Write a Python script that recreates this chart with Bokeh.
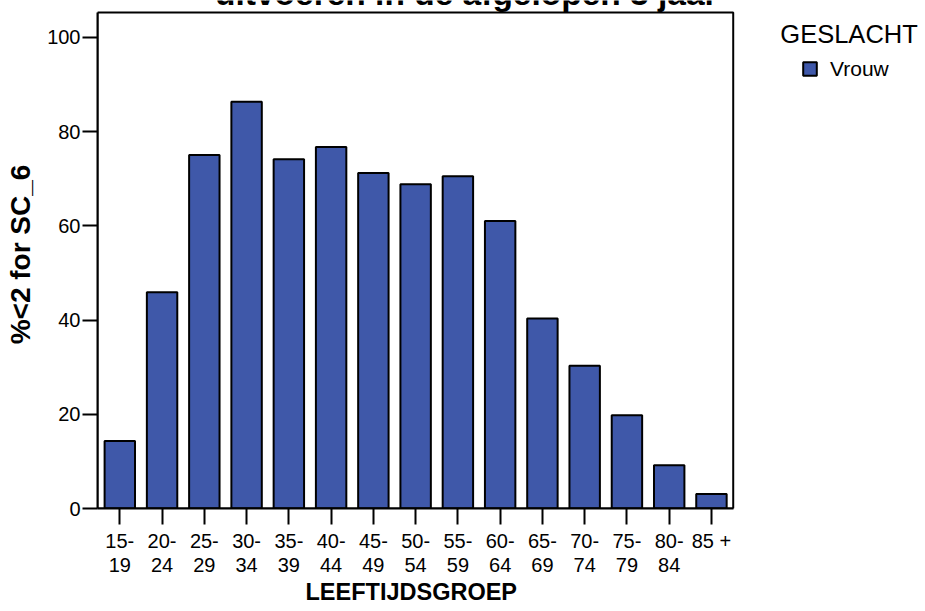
from bokeh.plotting import figure
from bokeh.models import Range1d, Label, FixedTicker, BoxAnnotation, Title
from bokeh.embed import file_html
from bokeh.resources import INLINE

# ---- data ----
age_groups = ["15-\n19", "20-\n24", "25-\n29", "30-\n34", "35-\n39", "40-\n44",
              "45-\n49", "50-\n54", "55-\n59", "60-\n64", "65-\n69", "70-\n74",
              "75-\n79", "80-\n84", "85 +"]
pct_vrouw = [14.3, 45.9, 75.0, 86.3, 74.1, 76.7, 71.2, 68.8, 70.5, 61.0,
             40.3, 30.3, 19.8, 9.2, 3.1]
y_ticks = [0, 20, 40, 60, 80, 100]
series_name = "Vrouw"
legend_title = "GESLACHT"
chart_title = "uitvoeren in de afgelopen 3 jaar"
x_title = "LEEFTIJDSGROEP"
y_title = "%<2 for SC_6"

FONT = "Liberation Sans"
BAR_COLOR = "#3F58A9"

# layout (the frame covers the whole area right of the y axis; the plot box
# itself is drawn as a box annotation)
X_START, X_BOX_END, X_END = -0.528, 14.515, 19.065
Y_BOX_TOP, Y_END = 105.25, 107.8

idx = list(range(len(age_groups)))

p = figure(x_range=Range1d(X_START, X_END), y_range=Range1d(0, Y_END),
           frame_width=828, frame_height=508,
           min_border_left=97, min_border_right=0,
           min_border_top=0, min_border_bottom=102,
           output_backend="svg", toolbar_location=None)

p.vbar(x=idx, top=pct_vrouw, width=0.72, fill_color=BAR_COLOR,
       line_color="black", line_width=2, legend_label=series_name)

p.xgrid.visible = False
p.ygrid.visible = False
p.outline_line_color = None
p.background_fill_color = "white"
p.border_fill_color = "white"

p.add_layout(BoxAnnotation(left=X_START, right=X_BOX_END, bottom=0, top=Y_BOX_TOP,
                           fill_alpha=0, line_color="black", line_alpha=1,
                           line_width=2))

xa = p.xaxis[0]
xa.ticker = FixedTicker(ticks=idx)
xa.major_label_overrides = {i: lab for i, lab in zip(idx, age_groups)}
xa.bounds = (X_START, X_BOX_END)
xa.minor_tick_out = 0
xa.minor_tick_in = 0
xa.axis_line_width = 2
xa.major_tick_line_width = 2
xa.major_tick_out = 16
xa.major_tick_in = 0
xa.major_label_text_font = FONT
xa.major_label_text_font_size = "20px"
xa.major_label_text_color = "black"
xa.major_label_text_line_height = 1.1
xa.major_label_standoff = 5

# x axis title, centred under the plot box
p.add_layout(Title(text=x_title, align="left", offset=208, standoff=-3,
                   text_font=FONT, text_font_size="23.5px",
                   text_font_style="bold", text_color="black"), "below")

ya = p.yaxis[0]
ya.ticker = FixedTicker(ticks=y_ticks)
ya.bounds = (0, Y_BOX_TOP)
ya.axis_line_width = 2
ya.major_tick_line_width = 2
ya.major_tick_out = 15
ya.major_tick_in = 0
ya.minor_tick_out = 0
ya.minor_tick_in = 0
ya.major_label_text_font = FONT
ya.major_label_text_font_size = "20px"
ya.major_label_text_color = "black"
ya.major_label_standoff = 2
ya.axis_label = y_title
ya.axis_label_text_font = FONT
ya.axis_label_text_font_style = "bold"
ya.axis_label_text_font_size = "28px"
ya.axis_label_text_color = "black"
ya.axis_label_standoff = 8

# chart title (cut off at the top edge, as in the reference)
p.add_layout(Label(x=8.2, y=109.2, text=chart_title, text_font=FONT,
                   text_font_size="33.5px", text_font_style="bold",
                   text_color="black", text_align="center",
                   text_baseline="middle"))

# legend
lg = p.legend[0]
lg.location = (704, 427.5)
lg.padding = 0
lg.margin = 0
lg.spacing = 0
lg.border_line_alpha = 0
lg.background_fill_alpha = 0
lg.glyph_width = 17
lg.glyph_height = 17
lg.label_height = 17
lg.label_standoff = 12
lg.label_text_font = FONT
lg.label_text_font_size = "21px"
lg.label_text_color = "black"

p.add_layout(Label(x=15.63, y=100.7, text=legend_title, text_font=FONT,
                   text_font_size="25.5px", text_color="black",
                   text_baseline="middle"))

open("out.html", "w").write(file_html(p, INLINE))
